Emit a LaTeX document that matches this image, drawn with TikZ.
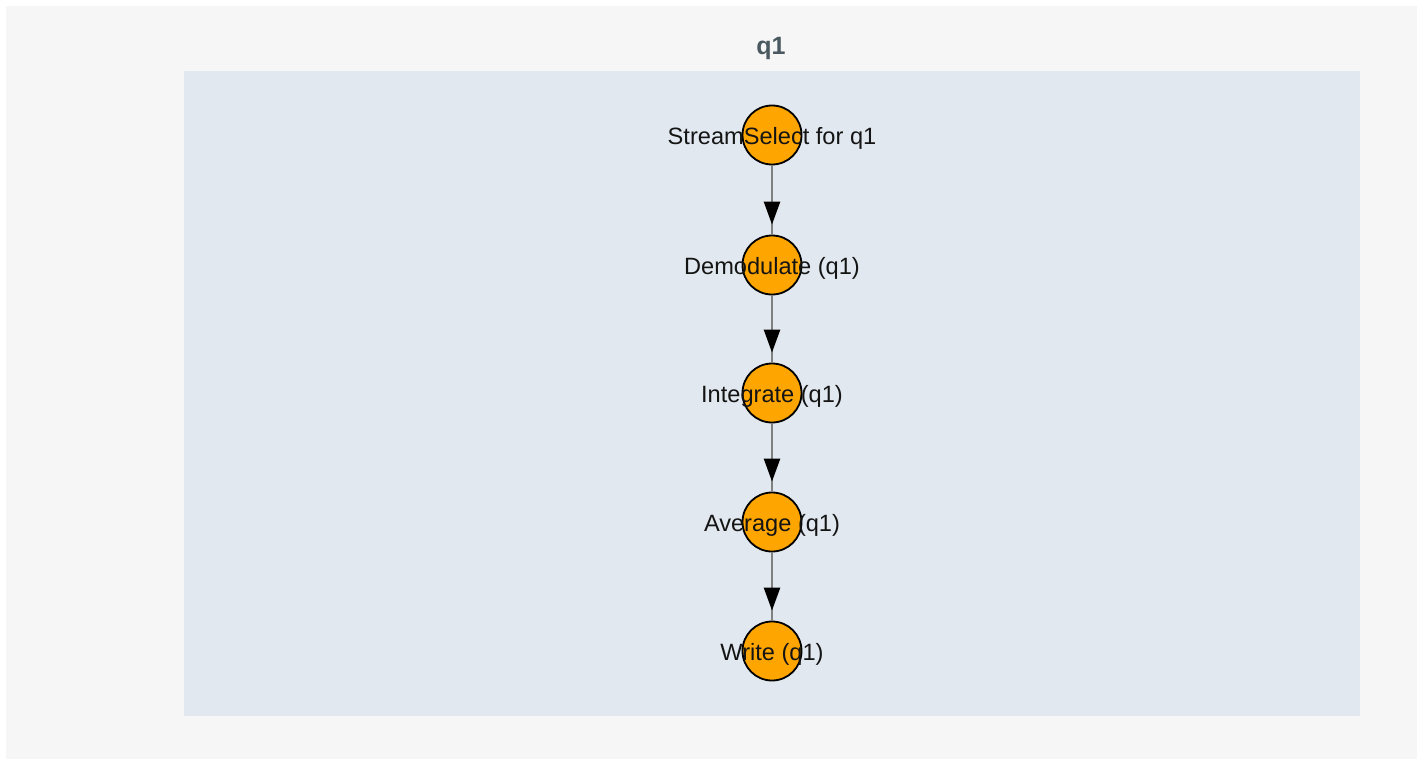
\documentclass[tikz,border=0pt]{standalone}
\usepackage{fontspec}
\setmainfont{Liberation Sans}
\usetikzlibrary{arrows.meta}
\definecolor{pagebg}{HTML}{F6F6F6}
\definecolor{panelbg}{HTML}{E1E8EF}
\definecolor{titlec}{HTML}{4A595F}
\definecolor{nodeor}{HTML}{FFA500}
\definecolor{edgec}{HTML}{808080}
\begin{document}
\begin{tikzpicture}[x=1pt,y=-1pt,
  opnode/.style={circle, draw=black, line width=1.8pt, fill=nodeor, minimum size=59pt, inner sep=0pt},
  oplabel/.style={font=\fontsize{23.6}{28}\selectfont, text=black!92, inner sep=0pt},
  flow/.style={draw=edgec, line width=2.5pt},
  flowtip/.style={draw=edgec, line width=2.5pt, shorten >=10pt, -{Triangle[length=23pt,width=16pt,color=black,fill=black]}},
  titletext/.style={font=\fontsize{25}{30}\selectfont\bfseries, text=titlec}
]
\useasboundingbox (0,0) rectangle (1423,765);
\fill[white] (0,0) rectangle (1423,765);
\fill[pagebg] (6,6) rectangle (1417,759);
\fill[panelbg] (184,71) rectangle (1360,716);
\node[titletext] (title) at (771,48) {q1};

\node[opnode] (n1) at (772,135) {};
\node[opnode] (n2) at (772,265) {};
\node[opnode] (n3) at (772,393) {};
\node[opnode] (n4) at (772,522) {};
\node[opnode] (n5) at (772,651) {};

\foreach \a/\b in {n1/n2,n2/n3,n3/n4,n4/n5}{
  \draw[flow] (\a) -- (\b);
  \draw[flowtip] (\a) -- (\b);
}

\node[oplabel] (l1) at ([yshift=-3pt]n1) {StreamSelect for q1};
\node[oplabel] (l2) at ([yshift=-3pt]n2) {Demodulate (q1)};
\node[oplabel] (l3) at ([yshift=-3pt]n3) {Integrate (q1)};
\node[oplabel] (l4) at ([yshift=-3pt]n4) {Average (q1)};
\node[oplabel] (l5) at ([yshift=-3pt]n5) {Write (q1)};
\end{tikzpicture}
\end{document}
